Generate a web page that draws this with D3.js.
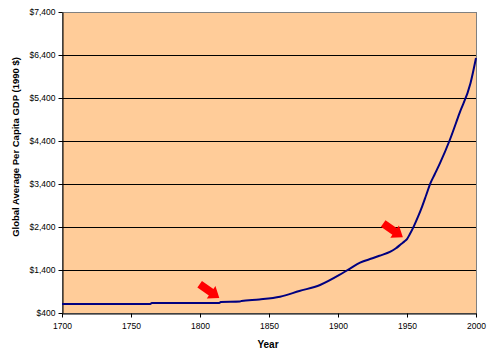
<!DOCTYPE html>
<html>
<head>
    <meta charset="UTF-8">
    <script src="https://d3js.org/d3.v7.min.js"></script>
    <style>
        body { margin: 0; background: #fff; }
        text { font-family: "Liberation Sans", Arial, sans-serif; }
    </style>
</head>
<body>
    <script>
        // values
        const years = [1700, 1764, 1765, 1814, 1815, 1829, 1830, 1843, 1858, 1872, 1887, 1901, 1909,
            1916, 1925, 1930, 1938, 1942, 1946, 1948, 1950, 1952, 1955, 1958, 1961, 1964, 1967,
            1970, 1974, 1981, 1988, 1996, 2000];
        const gdp = [610, 610, 632, 632, 655, 665, 680, 715, 779, 912, 1051, 1284, 1440,
            1570, 1672, 1730, 1826, 1905, 2010, 2060, 2120, 2230, 2420, 2640, 2880, 3150, 3420,
            3620, 3890, 4423, 5044, 5742, 6330];
        const yTicks = [400, 1400, 2400, 3400, 4400, 5400, 6400, 7400];
        const xTicks = [1700, 1750, 1800, 1850, 1900, 1950, 2000];
        const arrowYears = [1814, 1947];
        const arrowGdp = [749, 2160];

        const width = 491, height = 354;
        const mLeft = 62, mRight = 476, mTop = 12, mBottom = 313;

        const x = d3.scaleLinear().domain([1700, 2000]).range([mLeft, mRight]);
        const y = d3.scaleLinear().domain([400, 7400]).range([mBottom, mTop]);

        const svg = d3.select("body").append("svg")
            .attr("width", width).attr("height", height);

        // plot area
        svg.append("rect")
            .attr("x", mLeft + 0.5).attr("y", mTop + 0.5)
            .attr("width", mRight - mLeft).attr("height", mBottom - mTop)
            .attr("fill", "#ffcc99")
            .attr("stroke", "#808080").attr("stroke-width", 1);

        // gridlines
        svg.append("g").selectAll("line")
            .data(yTicks.slice(1, -1)).enter().append("line")
            .attr("x1", mLeft).attr("x2", mRight)
            .attr("y1", d => Math.round(y(d)) + 0.5).attr("y2", d => Math.round(y(d)) + 0.5)
            .attr("stroke", "#000");

        const fmt = d => "$" + d3.format(",")(d);

        const yAxis = svg.append("g")
            .attr("transform", `translate(${mLeft + 0.5},0)`)
            .call(d3.axisLeft(y).tickValues(yTicks).tickFormat(fmt).tickSize(4).tickSizeOuter(0).tickPadding(3));
        const xAxis = svg.append("g")
            .attr("transform", `translate(0,${mBottom + 0.5})`)
            .call(d3.axisBottom(x).tickValues(xTicks).tickFormat(d3.format("d")).tickSize(4).tickSizeOuter(0).tickPadding(5));

        [yAxis, xAxis].forEach(a => {
            a.select(".domain").attr("stroke", "#000");
            a.selectAll("line").attr("stroke", "#000");
            a.selectAll("text").attr("font-size", 8.5).attr("fill", "#000")
                .style("font-family", "'Liberation Sans', Arial, sans-serif");
        });

        // series line
        const pts = years.map((d, i) => [d, gdp[i]]);
        svg.append("path")
            .datum(pts)
            .attr("d", d3.line().x(d => x(d[0])).y(d => y(d[1])).curve(d3.curveMonotoneX))
            .attr("fill", "none")
            .attr("stroke", "#000080")
            .attr("stroke-width", 2);

        // red block arrows
        const arrowShape = [[0, 0], [-10, -7.5], [-10, -4], [-24, -4], [-24, 4], [-10, 4], [-10, 7.5]];
        svg.append("g").selectAll("polygon")
            .data(arrowYears.map((d, i) => [d, arrowGdp[i]])).enter().append("polygon")
            .attr("points", arrowShape.map(p => p.join(",")).join(" "))
            .attr("transform", d => `translate(${x(d[0])},${y(d[1])}) rotate(35)`)
            .attr("fill", "#ff0000");

        // axis titles
        svg.append("text")
            .attr("x", (mLeft + mRight) / 2 - 1).attr("y", 348)
            .attr("text-anchor", "middle")
            .attr("font-size", 10).attr("font-weight", "bold")
            .text("Year");

        svg.append("text")
            .attr("transform", "translate(19,147) rotate(-90)")
            .attr("text-anchor", "middle")
            .attr("font-size", 9.5).attr("font-weight", "bold")
            .text("Global Average Per Capita GDP (1990 $)");
    </script>
</body>
</html>
